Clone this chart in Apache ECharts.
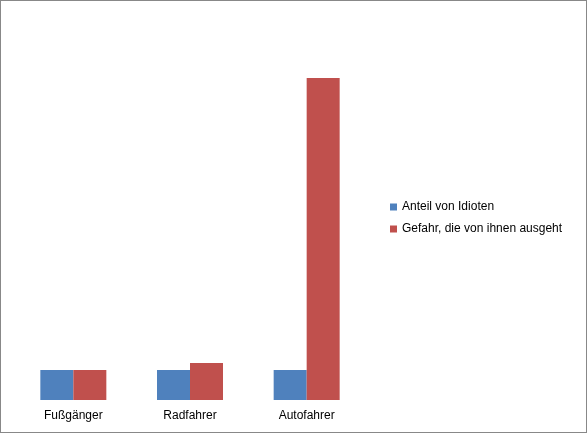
<!DOCTYPE html>
<html><head><meta charset="utf-8">
<script src="https://cdn.jsdelivr.net/npm/echarts@6/dist/echarts.min.js"></script>
<style>html,body{margin:0;padding:0;}#c{width:585px;height:431px;border:1px solid #888;}</style>
</head><body><div id="c"></div>
<script>
const categories = ["Fußgänger", "Radfahrer", "Autofahrer"];
const anteil = [1, 1, 1];
const gefahr = [1, 1.23, 10.7];
const chart = echarts.init(document.getElementById('c'));
chart.setOption({
  animation: false,
  backgroundColor: '#fff',
  textStyle: { fontFamily: 'Arial, Liberation Sans, sans-serif' },
  grid: { left: 14, right: 221, top: 38, bottom: 32 },
  legend: {
    orient: 'vertical', left: 384, top: 195, itemWidth: 7, itemHeight: 7, itemGap: 10,
    icon: 'rect', textStyle: { fontSize: 12, color: '#000' },
    data: ['Anteil von Idioten', 'Gefahr, die von ihnen ausgeht']
  },
  xAxis: {
    type: 'category', data: categories,
    axisLine: { show: false }, axisTick: { show: false },
    axisLabel: { color: '#000', fontSize: 12, margin: 10 }
  },
  yAxis: { type: 'value', min: 0, max: 12, show: false, splitLine: { show: false } },
  series: [
    { name: 'Anteil von Idioten', type: 'bar', data: anteil, barWidth: 33, barGap: '0%', itemStyle: { color: '#4f81bd' } },
    { name: 'Gefahr, die von ihnen ausgeht', type: 'bar', data: gefahr, barWidth: 33, itemStyle: { color: '#c0504d' } }
  ]
});
</script></body></html>
